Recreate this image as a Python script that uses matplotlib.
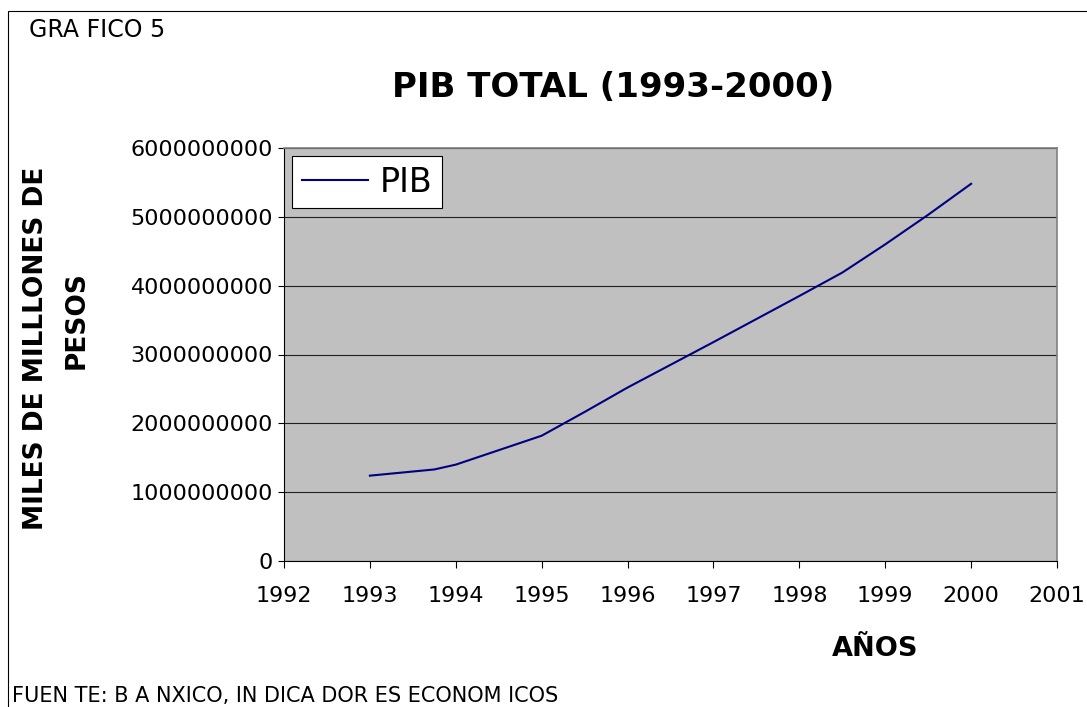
import matplotlib
matplotlib.use('Agg')
import matplotlib.pyplot as plt
from matplotlib.patches import Rectangle

# PIB total por año (pesos)
years = [1993.0, 1993.75, 1994.0, 1995.0, 1995.5, 1996.0, 1997.0, 1998.0, 1998.5, 1999.0, 1999.5, 2000.0]
pib = [1.24e9, 1.33e9, 1.40e9, 1.82e9, 2.165e9, 2.52e9, 3.18e9, 3.85e9, 4.19e9, 4.60e9, 5.03e9, 5.48e9]

x_ticks = list(range(1992, 2002))
y_ticks = [0, 1e9, 2e9, 3e9, 4e9, 5e9, 6e9]
y_tick_labels = ['0', '1000000000', '2000000000', '3000000000', '4000000000', '5000000000', '6000000000']

plt.rcParams['font.family'] = ['DejaVu Sans']

W, H = 1087, 707
fig = plt.figure(figsize=(W / 100, H / 100), dpi=100)
fig.patch.set_facecolor('white')

# outer frame of the chart object
fig.patches.append(Rectangle((8 / W, -0.05), 1.2, 1 - 11 / H + 0.05, transform=fig.transFigure,
                             fill=False, edgecolor='black', linewidth=0.8))

ax = fig.add_axes([284 / W, 1 - 561 / H, (1057 - 284) / W, (561 - 148) / H])
ax.set_facecolor('#c0c0c0')
ax.plot(years, pib, color='#000080', linewidth=1.5, label='PIB')

ax.set_xlim(1992, 2001)
ax.set_ylim(0, 6e9)
ax.set_xticks(x_ticks)
ax.set_xticklabels([str(y) for y in x_ticks])
ax.set_yticks(y_ticks)
ax.set_yticklabels(y_tick_labels)
ax.tick_params(axis='both', labelsize=16, direction='out', color='black', width=0.8)
ax.tick_params(axis='x', length=5, pad=13)
ax.tick_params(axis='y', length=4, pad=4)

ax.yaxis.grid(True, color='#202020', linewidth=0.8)
ax.set_axisbelow(True)
for s in ['top', 'right']:
    ax.spines[s].set_color('#808080')
    ax.spines[s].set_linewidth(1.2)
for s in ['left', 'bottom']:
    ax.spines[s].set_color('black')
    ax.spines[s].set_linewidth(0.8)

leg = ax.legend(loc='upper left', fontsize=24, frameon=True, fancybox=False, shadow=False,
                borderaxespad=0.25, borderpad=0.28, handlelength=2.0, handletextpad=0.35)
leg.get_frame().set_edgecolor('black')
leg.get_frame().set_facecolor('white')
leg.get_frame().set_alpha(1)
leg.get_frame().set_linewidth(0.8)

fig.text(29 / W, 1 - 37 / H, 'GRA FICO 5', fontsize=17, ha='left', va='baseline')
fig.text(613 / W, 1 - 97 / H, 'PIB TOTAL (1993-2000)', fontsize=24.5, fontweight='bold',
         ha='center', va='baseline')
fig.text(36 / W, 1 - 348 / H, 'MILES DE MILLLONES DE', fontsize=19, fontweight='bold',
         rotation=90, ha='center', va='center')
fig.text(77 / W, 1 - 320 / H, 'PESOS', fontsize=19, fontweight='bold',
         rotation=90, ha='center', va='center')
fig.text(875 / W, 1 - 656 / H, 'AÑOS', fontsize=19.5, fontweight='bold', ha='center', va='baseline')
fig.text(12 / W, 1 - 702 / H, 'FUEN TE: B A NXICO, IN DICA DOR ES ECONOM ICOS', fontsize=15,
         ha='left', va='baseline')

fig.savefig('out.png', dpi=100)
